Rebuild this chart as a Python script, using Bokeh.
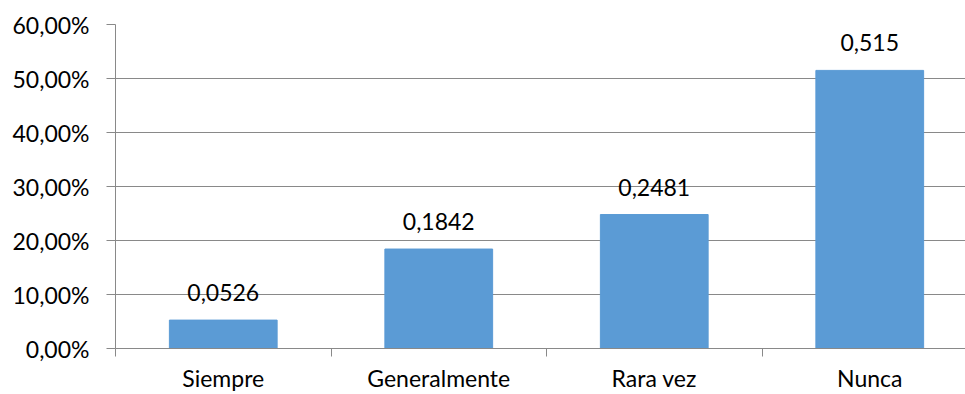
from bokeh.plotting import figure
from bokeh.models import Range1d, FixedTicker, ColumnDataSource
from bokeh.core.properties import value
from bokeh.embed import file_html
from bokeh.resources import INLINE

categories = ["Siempre", "Generalmente", "Rara vez", "Nunca"]
values = [0.0526, 0.1842, 0.2481, 0.515]
value_labels = ["0,0526", "0,1842", "0,2481", "0,515"]
y_ticks = [0.0, 0.1, 0.2, 0.3, 0.4, 0.5, 0.6]
y_tick_labels = ["0,00%", "10,00%", "20,00%", "30,00%", "40,00%", "50,00%", "60,00%"]

FONT = "Lato"
FS = "23px"
GRID = "#898989"

xs = [i + 0.5 for i in range(len(categories))]
src = ColumnDataSource(dict(x=xs, top=values, label=value_labels))

p = figure(width=965, height=394, output_backend="svg", toolbar_location=None,
           x_range=Range1d(0, 850 / 215.5), y_range=Range1d(0, 0.6),
           min_border_left=115, min_border_right=0, min_border_top=24, min_border_bottom=45)
p.outline_line_color = None
p.background_fill_color = "white"
p.border_fill_color = "white"

p.vbar(x="x", top="top", width=0.5, bottom=0, source=src, color="#5B9BD5")
p.text(x="x", y="top", text="label", source=src, text_align="center", text_baseline="bottom",
       y_offset=-19, text_font=value(FONT), text_font_size=FS, text_color="#000000")

# y axis
p.yaxis.ticker = FixedTicker(ticks=y_ticks, minor_ticks=[])
p.yaxis.major_label_overrides = {t: l for t, l in zip(y_ticks, y_tick_labels)}
p.yaxis.major_tick_out = 9
p.yaxis.major_tick_in = 0
p.yaxis.minor_tick_out = 0
p.yaxis.minor_tick_in = 0
p.yaxis.axis_line_color = GRID
p.yaxis.major_tick_line_color = GRID
p.yaxis.major_label_standoff = 17
p.yaxis.major_label_text_font = FONT
p.yaxis.major_label_text_font_size = FS
p.yaxis.major_label_text_color = "#000000"

# x axis
p.xaxis.ticker = FixedTicker(ticks=xs, minor_ticks=list(range(len(categories) + 1)))
p.xaxis.major_label_overrides = {x: c for x, c in zip(xs, categories)}
p.xaxis.major_tick_out = 0
p.xaxis.major_tick_in = 0
p.xaxis.minor_tick_out = 8
p.xaxis.minor_tick_in = 0
p.xaxis.minor_tick_line_color = GRID
p.xaxis.axis_line_color = GRID
p.xaxis.major_label_standoff = 7
p.xaxis.major_label_text_font = FONT
p.xaxis.major_label_text_font_size = FS
p.xaxis.major_label_text_color = "#000000"

p.xgrid.grid_line_color = None
p.ygrid.grid_line_color = GRID
p.ygrid.grid_line_width = 1

open("out.html", "w").write(file_html(p, INLINE))
